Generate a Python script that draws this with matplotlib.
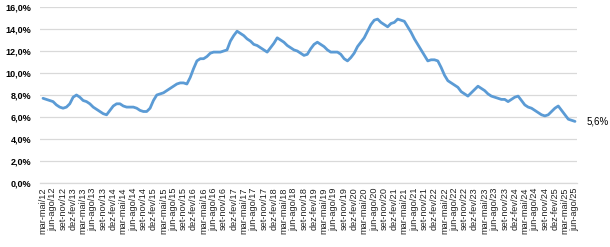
import numpy as np
import matplotlib
matplotlib.use("Agg")
import matplotlib.pyplot as plt
from matplotlib.ticker import FuncFormatter

# rolling-quarter periods, mar-mai/12 .. jun-ago/25
months = ["jan", "fev", "mar", "abr", "mai", "jun", "jul", "ago", "set", "out", "nov", "dez"]
periods = []
for k in range(160):
    end = 4 + k  # index of end month (mai/2012 = 4)
    start = end - 2
    yr = 12 + end // 12
    periods.append(f"{months[start % 12]}-{months[end % 12]}/{yr:02d}")

taxa = [
    7.7, 7.6, 7.5, 7.4, 7.1, 6.9, 6.8, 6.9, 7.2, 7.8,
    8.0, 7.8, 7.5, 7.4, 7.2, 6.9, 6.7, 6.5, 6.3, 6.2,
    6.6, 7.0, 7.2, 7.2, 7.0, 6.9, 6.9, 6.9, 6.8, 6.6,
    6.5, 6.5, 6.8, 7.5, 8.0, 8.1, 8.2, 8.4, 8.6, 8.8,
    9.0, 9.1, 9.1, 9.0, 9.6, 10.4, 11.1, 11.3, 11.3, 11.5,
    11.8, 11.9, 11.9, 11.9, 12.0, 12.1, 12.9, 13.4, 13.8, 13.6,
    13.4, 13.1, 12.9, 12.6, 12.5, 12.3, 12.1, 11.9, 12.3, 12.7,
    13.2, 13.0, 12.8, 12.5, 12.3, 12.1, 12.0, 11.8, 11.6, 11.7,
    12.2, 12.6, 12.8, 12.6, 12.4, 12.1, 11.9, 11.9, 11.9, 11.7,
    11.3, 11.1, 11.4, 11.8, 12.4, 12.8, 13.2, 13.8, 14.4, 14.8,
    14.9, 14.6, 14.4, 14.2, 14.5, 14.6, 14.9, 14.8, 14.7, 14.2,
    13.7, 13.1, 12.6, 12.1, 11.6, 11.1, 11.2, 11.2, 11.1, 10.5,
    9.8, 9.3, 9.1, 8.9, 8.7, 8.3, 8.1, 7.9, 8.2, 8.5,
    8.8, 8.6, 8.4, 8.1, 7.9, 7.8, 7.7, 7.6, 7.6, 7.4,
    7.6, 7.8, 7.9, 7.5, 7.1, 6.9, 6.8, 6.6, 6.4, 6.2,
    6.1, 6.2, 6.5, 6.8, 7.0, 6.6, 6.2, 5.8, 5.7, 5.6,
]

blue = "#5B9BD5"
grid = "#D9D9D9"

fig = plt.figure(figsize=(6.10, 2.47), dpi=100)
ax = fig.add_axes([40 / 610, 1 - 183 / 247, 537 / 610, 176 / 247])

x = np.arange(len(taxa))
ax.plot(x, taxa, color=blue, lw=2.0, solid_joinstyle="round", solid_capstyle="round")

ax.set_ylim(0, 16)
ax.set_yticks(np.arange(0, 17, 2))
ax.yaxis.set_major_formatter(FuncFormatter(lambda v, p: f"{v:.1f}%".replace(".", ",")))
ax.set_xlim(-0.9, 159.6)
ax.set_xticks(x[::3])
ax.set_xticklabels(periods[::3], rotation=90, fontsize=6.6, family="Liberation Sans",
                   color="#222222")
for t in ax.get_yticklabels():
    t.set_fontsize(6.5)
    t.set_fontweight("bold")
    t.set_family("Liberation Sans")

ax.tick_params(axis="both", length=0, pad=3)
ax.tick_params(axis="y", pad=6)
ax.grid(axis="y", color=grid, lw=0.9)
ax.set_axisbelow(True)
for s in ["top", "right", "left"]:
    ax.spines[s].set_visible(False)
ax.spines["bottom"].set_color(grid)
ax.spines["bottom"].set_linewidth(0.9)

ax.annotate(f"{taxa[-1]:.1f}%".replace(".", ","), (x[-1], taxa[-1]),
            xytext=(8, 0), textcoords="offset points", va="center", ha="left",
            fontsize=7, family="Liberation Sans", annotation_clip=False)

fig.savefig("out.png", dpi=100)
